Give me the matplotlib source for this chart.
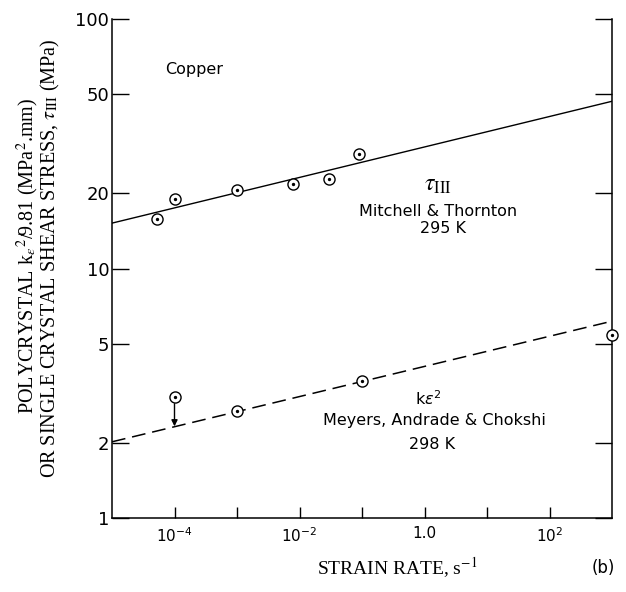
import matplotlib
matplotlib.use("Agg")
import matplotlib.pyplot as plt
from matplotlib.ticker import FixedLocator, NullLocator, FixedFormatter

# ---- data ----
tau_rate = [5.2e-5, 1e-4, 1e-3, 8e-3, 3e-2, 9e-2]
tau_stress = [15.8, 19.0, 20.6, 21.9, 22.8, 28.8]
tau_fit_rate = [1e-5, 1e3]
tau_fit_stress = [15.2, 46.8]

k_rate = [1e-4, 1e-3, 1e-1, 1e3]
k_value = [3.06, 2.69, 3.54, 5.43]
k_fit_rate = [1e-5, 1e3]
k_fit_value = [2.02, 6.15]
k_arrow_rate = 1e-4
k_arrow_from = 3.06
k_arrow_to = 2.33

x_ticks = [1e-4, 1e-3, 1e-2, 1e-1, 1e0, 1e1, 1e2]
x_ticklabels = ["$10^{-4}$", "", "$10^{-2}$", "", "1.0", "", "$10^{2}$"]
y_ticks = [1, 2, 5, 10, 20, 50, 100]
y_ticklabels = ["1", "2", "5", "10", "20", "50", "100"]

plt.rcParams['font.family'] = ['DejaVu Sans']
plt.rcParams['mathtext.fontset'] = 'dejavusans'

W, H = 626, 592
fig = plt.figure(figsize=(W / 100, H / 100), dpi=100)
ax = fig.add_axes([112 / W, 1 - 518 / H, 500 / W, 499 / H])
ax.set_xscale('log')
ax.set_yscale('log')
ax.set_xlim(1e-5, 1e3)
ax.set_ylim(1, 100)

# fit lines
ax.plot(tau_fit_rate, tau_fit_stress, color='black', lw=1.0)
ax.plot(k_fit_rate, k_fit_value, color='black', lw=1.1, dashes=(9, 4.5))

# markers: circle with centre dot
for xs, ys in [(tau_rate, tau_stress), (k_rate, k_value)]:
    ax.plot(xs, ys, linestyle='none', marker='o', markersize=8,
            markerfacecolor='white', markeredgecolor='black',
            markeredgewidth=1.0, clip_on=False, zorder=3)
    ax.plot(xs, ys, linestyle='none', marker='o', markersize=1.4,
            color='black', clip_on=False, zorder=4)

# arrow (upper bound)
ax.annotate("", xy=(k_arrow_rate, k_arrow_to), xytext=(k_arrow_rate, k_arrow_from),
            arrowprops=dict(arrowstyle='-|>', color='black', lw=1.0,
                            mutation_scale=9, shrinkA=5, shrinkB=0))

# ticks
ax.xaxis.set_major_locator(FixedLocator(x_ticks))
ax.xaxis.set_major_formatter(FixedFormatter(x_ticklabels))
ax.xaxis.set_minor_locator(NullLocator())
ax.yaxis.set_major_locator(FixedLocator(y_ticks))
ax.yaxis.set_major_formatter(FixedFormatter(y_ticklabels))
ax.yaxis.set_minor_locator(NullLocator())
ax.tick_params(axis='x', direction='in', length=8, width=1.0, labelsize=11, pad=6)
ax.tick_params(axis='y', direction='in', length=12, width=1.0, labelsize=13, pad=2,
               right=True)

ax.spines['top'].set_visible(False)
for s in ['left', 'right', 'bottom']:
    ax.spines[s].set_linewidth(1.1)

# annotations
ax.text(10 ** -4.15, 63, "Copper", fontsize=11.5, ha='left', va='center')
tau_txt = ax.text(10 ** (-5 + (438 - 112) / 62.5), 10 ** ((518 - 183) / 250),
                  r"$\tau_{\mathrm{III}}$", fontsize=17, ha='center', va='center',
                  math_fontfamily='stix')
ax.text(10 ** (-5 + (438 - 112) / 62.5), 10 ** ((518 - 211) / 250),
        "Mitchell & Thornton", fontsize=11.5, ha='center', va='center')
ax.text(10 ** (-5 + (443 - 112) / 62.5), 10 ** ((518 - 228) / 250),
        "295 K", fontsize=11.5, ha='center', va='center')

ax.text(10 ** (-5 + (428 - 112) / 62.5), 10 ** ((518 - 398) / 250),
        r"k$\varepsilon^2$", fontsize=11.5, ha='center', va='center')
ax.text(10 ** (-5 + (434 - 112) / 62.5), 10 ** ((518 - 420) / 250),
        "Meyers, Andrade & Chokshi", fontsize=11.5, ha='center', va='center')
ax.text(10 ** (-5 + (432 - 112) / 62.5), 10 ** ((518 - 444) / 250),
        "298 K", fontsize=11.5, ha='center', va='center')

# axis labels (serif)
serif = ['Liberation Serif', 'DejaVu Serif']
fig.text(28 / W, 1 - 256 / H,
         r"POLYCRYSTAL k$_{\varepsilon}$$^{2}$/9.81 (MPa$^{2}$.mm)",
         rotation=90, ha='center', va='center', fontsize=14.5, family=serif,
         math_fontfamily='stix')
fig.text(50 / W, 1 - 258 / H,
         r"OR SINGLE CRYSTAL SHEAR STRESS, $\tau_{\mathrm{III}}$ (MPa)",
         rotation=90, ha='center', va='center', fontsize=14.5, family=serif,
         math_fontfamily='stix')
fig.text(397 / W, 1 - 568 / H, r"STRAIN RATE, s$^{-1}$",
         ha='center', va='center', fontsize=14, family=serif,
         math_fontfamily='stix')
fig.text(603 / W, 1 - 568 / H, "(b)", ha='center', va='center', fontsize=12)

fig.savefig("out.png", dpi=100)
